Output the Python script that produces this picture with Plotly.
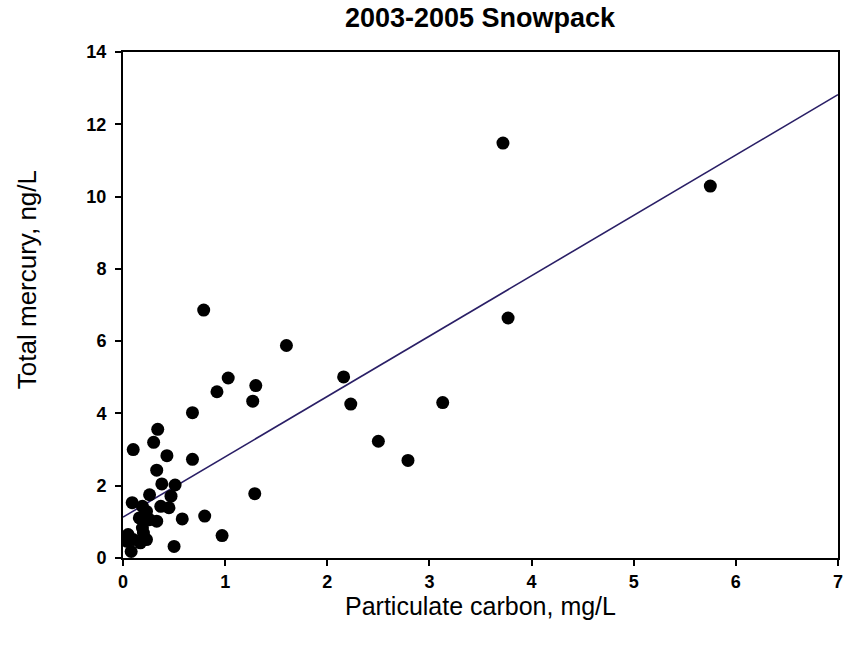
import plotly.graph_objects as go

# particulate carbon (mg/L) and total mercury (ng/L)
carbon = [1.03, 1.30, 0.92, 1.27, 0.68, 0.34, 0.30, 0.10, 0.43, 0.68, 0.33, 0.38,
          0.51, 1.29, 0.26, 0.09, 0.47, 0.37, 0.45, 0.19, 0.23, 0.16, 0.33, 0.58,
          0.80, 0.26, 0.19, 0.05, 0.20, 0.10, 0.23, 0.17, 0.97, 0.50, 0.08, 0.04,
          0.79, 1.60, 2.16, 2.23, 3.13, 2.50, 2.79, 3.72, 3.77, 5.75]
mercury = [4.98, 4.77, 4.60, 4.34, 4.02, 3.56, 3.20, 3.00, 2.83, 2.73, 2.43, 2.05,
           2.02, 1.78, 1.75, 1.53, 1.71, 1.43, 1.39, 1.43, 1.29, 1.11, 1.02, 1.08,
           1.16, 1.06, 0.83, 0.65, 0.69, 0.51, 0.51, 0.42, 0.62, 0.32, 0.18, 0.46,
           6.86, 5.88, 5.01, 4.26, 4.30, 3.23, 2.70, 11.48, 6.64, 10.29]

# regression line
intercept = 1.13
slope = 1.67
line_x = [0, 7]
line_y = [intercept + slope * v for v in line_x]

fig = go.Figure()
fig.add_trace(go.Scatter(x=line_x, y=line_y, mode='lines',
                         line=dict(color='#2a1f66', width=1.6), hoverinfo='skip'))
fig.add_trace(go.Scatter(x=carbon, y=mercury, mode='markers',
                         marker=dict(color='black', size=13)))

axis_common = dict(
    showgrid=False, zeroline=False, showline=True, linecolor='black', linewidth=2,
    mirror=True, ticks='outside', ticklen=6, tickwidth=1.5, tickcolor='black',
    ticklabeloverflow='allow',
    tickfont=dict(family='Liberation Sans', size=18, color='black', weight='bold'),
)

fig.update_layout(
    width=848, height=648,
    paper_bgcolor='white', plot_bgcolor='white',
    showlegend=False,
    margin=dict(l=123, r=5, t=52, b=90),
    title=dict(text='2003-2005 Snowpack', x=0.566, xanchor='center', y=0.988, yanchor='top',
               pad=dict(t=0, b=0),
               font=dict(family='Liberation Sans', size=27, color='black', weight='bold')),
    xaxis=dict(range=[0, 7], dtick=1,
               title=dict(text='Particulate carbon, mg/L', standoff=7,
                          font=dict(family='Liberation Sans', size=25, color='black')),
               **axis_common),
    yaxis=dict(range=[0, 14], dtick=2, ticklabelstandoff=5, **axis_common),
)

# y title sits above the axis centre in the original, so place it as an annotation
fig.add_annotation(text='Total mercury, ng/L', textangle=-90, showarrow=False,
                   xref='paper', yref='y', x=-0.135, y=7.7, xanchor='center', yanchor='middle',
                   font=dict(family='Liberation Sans', size=26, color='black'))

# drop the default page margin so the 848x648 figure fills the window
fig.write_html("out.html", config={'displayModeBar': False},
               post_script="document.body.style.margin='0';document.body.style.overflow='hidden';")
